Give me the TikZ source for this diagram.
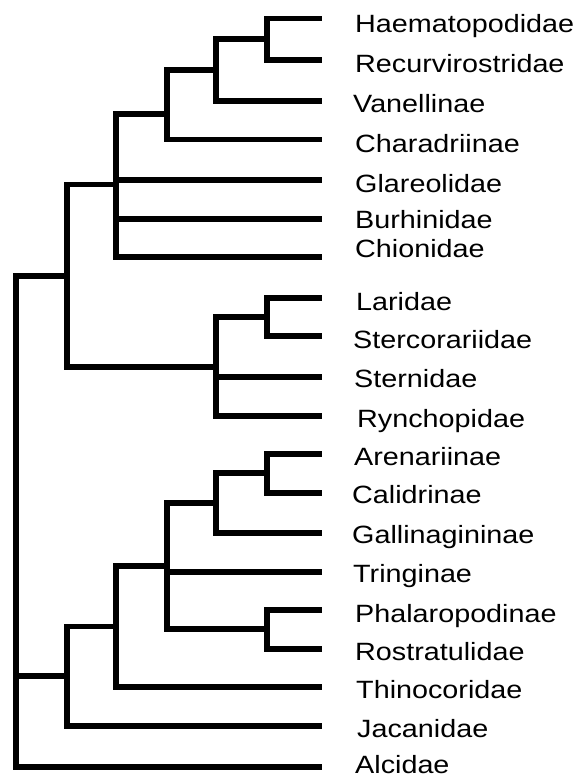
\documentclass[tikz,border=0pt]{standalone}
\usepackage{fontspec}
\newfontfamily\taxfont[FakeStretch=1.15]{Liberation Sans}
\usepackage{tikz}
\usetikzlibrary{calc}

\begin{document}
\begin{tikzpicture}[x=1pt,y=-1pt,
  branch/.style={line width=5.7pt,line join=miter},
  taxon/.style={anchor=base west,inner sep=0pt,font=\taxfont\fontsize{25}{30}\selectfont}]
\useasboundingbox (0,0) rectangle (577,778);
% leaf tips
\foreach \n/\y in {haem/18.5,recu/60,vane/101,chara/139.5,glar/180,burh/219,chio/257,
  lari/298,ster/336,stern/376.7,rync/415.8,aren/454,cali/492.8,gall/532.8,trin/571.8,
  phal/610,rost/648.8,thin/687,jaca/726,alci/767}{\coordinate (\n) at (322,\y);}
% internal nodes
\coordinate (nA) at (267,39.3);
\coordinate (nB) at (216,70);
\coordinate (nC) at (167,114);
\coordinate (nD) at (116,184.5);
\coordinate (nE) at (267,317);
\coordinate (nF) at (216,366.8);
\coordinate (nG) at (67,276);
\coordinate (nH) at (267,473);
\coordinate (nI) at (216,503);
\coordinate (nJ) at (267,629.3);
\coordinate (nK) at (167,566.2);
\coordinate (nL) at (116,626.4);
\coordinate (nM) at (67,676);
\coordinate (root) at (16,521);
% branches
\foreach \p/\c in {nA/haem,nA/recu,nB/nA,nB/vane,nC/nB,nC/chara,
  nD/nC,nD/glar,nD/burh,nD/chio,nE/lari,nE/ster,nF/nE,nF/stern,nF/rync,
  nG/nD,nG/nF,nH/aren,nH/cali,nI/nH,nI/gall,nJ/phal,nJ/rost,
  nK/nI,nK/trin,nK/nJ,nL/nK,nL/thin,nM/nL,nM/jaca,
  root/nG,root/nM,root/alci}{\draw[branch] (\p) |- (\c);}
% labels
\node[taxon] (haemL) at (355,33) {Haematopodidae};
\node[taxon] (recuL) at (355,73) {Recurvirostridae};
\node[taxon] (vaneL) at (353,113) {Vanellinae};
\node[taxon] (charaL) at (355,153) {Charadriinae};
\node[taxon] (glarL) at (355,193) {Glareolidae};
\node[taxon] (burhL) at (355,228) {Burhinidae};
\node[taxon] (chioL) at (355,257) {Chionidae};
\node[taxon] (lariL) at (356,310) {Laridae};
\node[taxon] (sterL) at (353,348) {Stercorariidae};
\node[taxon] (sternL) at (354,387) {Sternidae};
\node[taxon] (ryncL) at (357,427) {Rynchopidae};
\node[taxon] (arenL) at (354,465) {Arenariinae};
\node[taxon] (caliL) at (352,503) {Calidrinae};
\node[taxon] (gallL) at (352,543) {Gallinagininae};
\node[taxon] (trinL) at (353,582) {Tringinae};
\node[taxon] (phalL) at (355,622) {Phalaropodinae};
\node[taxon] (rostL) at (355,660) {Rostratulidae};
\node[taxon] (thinL) at (356,698) {Thinocoridae};
\node[taxon] (jacaL) at (357,737) {Jacanidae};
\node[taxon] (alciL) at (355,773) {Alcidae};
\end{tikzpicture}
\end{document}
